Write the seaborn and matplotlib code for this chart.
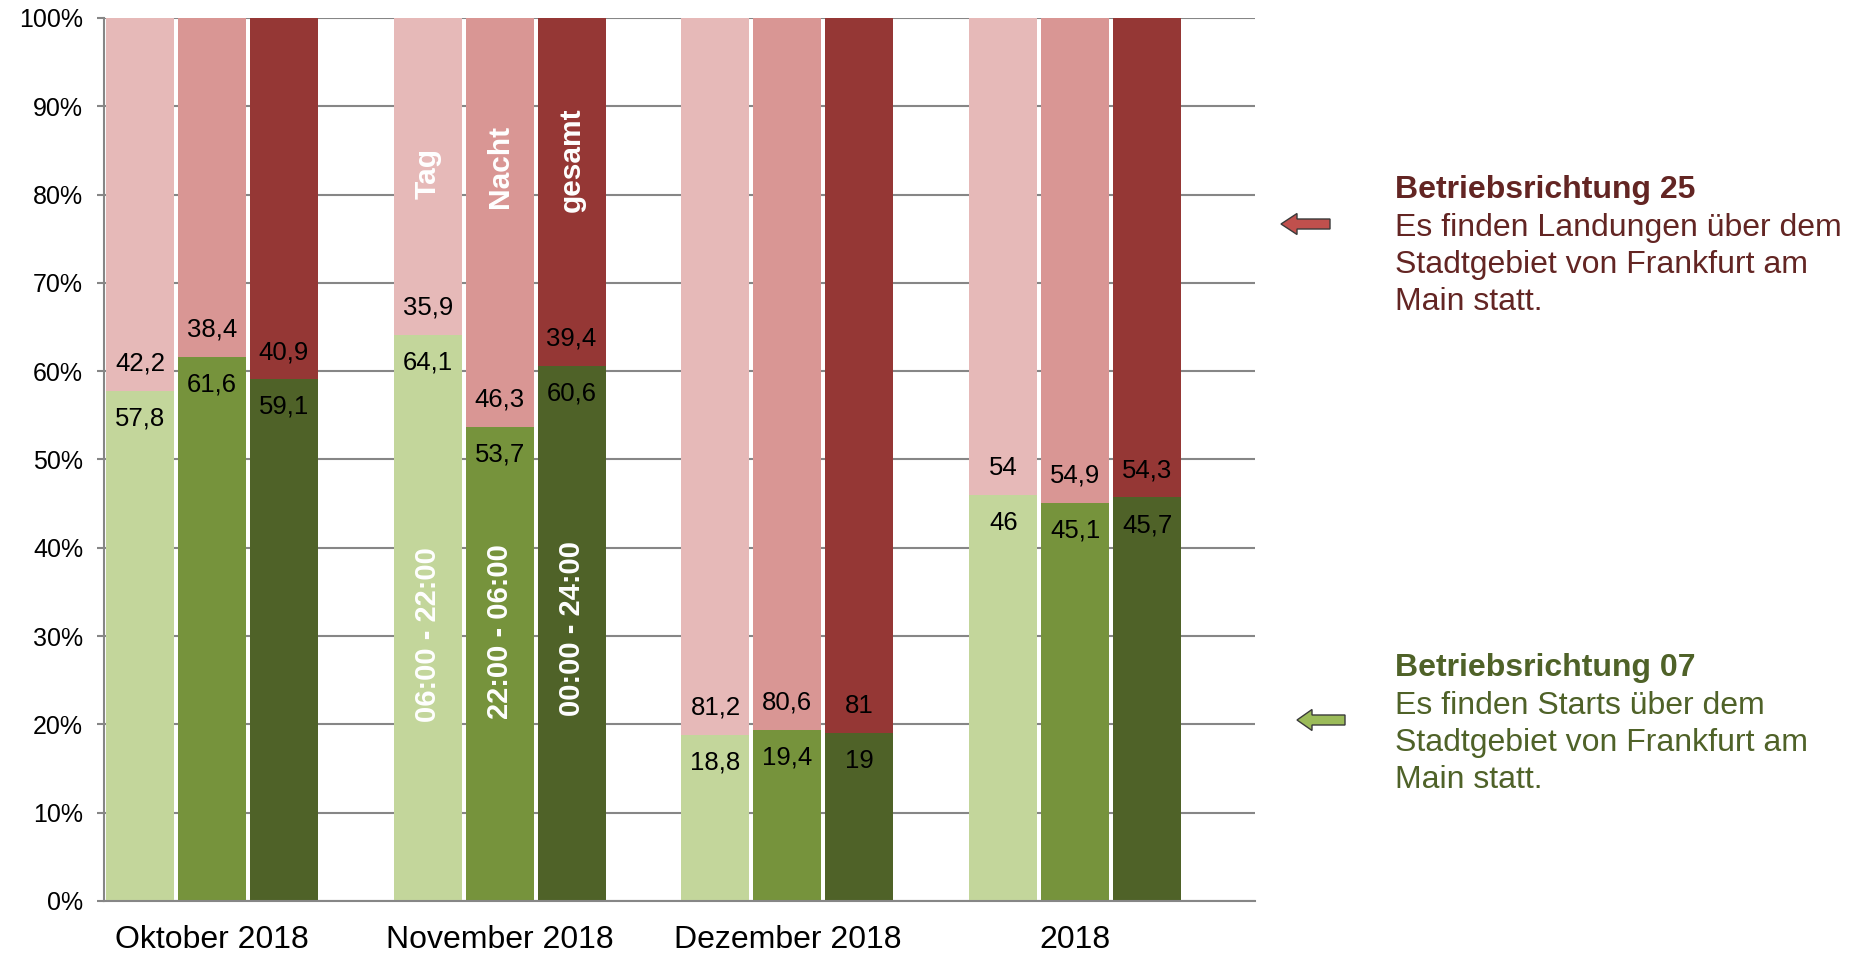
import numpy as np
import pandas as pd
import matplotlib
matplotlib.use("Agg")
import matplotlib.pyplot as plt
from matplotlib.patches import Polygon
import seaborn as sns

# ---------------- data ----------------
groups = ["Oktober 2018", "November 2018", "Dezember 2018", "2018"]
kinds = ["Tag", "Nacht", "gesamt"]
kind_times = ["06:00 - 22:00", "22:00 - 06:00", "00:00 - 24:00"]
br07 = [57.8, 61.6, 59.1, 64.1, 53.7, 60.6, 18.8, 19.4, 19.0, 46.0, 45.1, 45.7]
br25 = [42.2, 38.4, 40.9, 35.9, 46.3, 39.4, 81.2, 80.6, 81.0, 54.0, 54.9, 54.3]
yticks = [0, 10, 20, 30, 40, 50, 60, 70, 80, 90, 100]

red_cols = ["#E6B9B8", "#D99694", "#953735"]
green_cols = ["#C3D69B", "#76933C", "#4F6228"]

def fmt(v):
    s = f"{v:.1f}".replace(".", ",")
    return s[:-2] if s.endswith(",0") else s

# ---------------- frame ----------------
rows = []
for g, grp in enumerate(groups):
    for b, k in enumerate(kinds):
        i = g * 3 + b
        rows.append(dict(group=grp, kind=k, pos=g * 4 + b,
                         br07=br07[i], br25=br25[i], total=br07[i] + br25[i]))
df = pd.DataFrame(rows)

sns.set_theme(style="white")
plt.rcParams["font.family"] = ["Liberation Sans", "DejaVu Sans"]

fig = plt.figure(figsize=(18.66, 9.56), dpi=100)
ax = fig.add_axes([104 / 1866, 1 - 901 / 956, (1255 - 104) / 1866, (901 - 18) / 956])

sns.barplot(data=df, x="pos", y="total", hue="kind", hue_order=kinds,
            palette=red_cols, saturation=1, native_scale=True, dodge=False, width=0.945,
            linewidth=0, legend=False, ax=ax, zorder=2)
sns.barplot(data=df, x="pos", y="br07", hue="kind", hue_order=kinds,
            palette=green_cols, saturation=1, native_scale=True, dodge=False, width=0.945,
            linewidth=0, legend=False, ax=ax, zorder=3)

# value labels
for _, r in df.iterrows():
    ax.annotate(fmt(r.br07), (r.pos, r.br07), xytext=(0, -20), textcoords="offset points",
                ha="center", va="center", fontsize=18.5, color="black", zorder=5)
    ax.annotate(fmt(r.br25), (r.pos, r.br07), xytext=(0, 19.5), textcoords="offset points",
                ha="center", va="center", fontsize=18.5, color="black", zorder=5)

# rotated white labels inside the November bars
nov = df[df.group == "November 2018"].reset_index(drop=True)
name_y = [82.4, 83.2, 83.9]
time_y = [30.2, 30.5, 30.9]
for j, r in nov.iterrows():
    ax.text(r.pos, name_y[j], kinds[j], rotation=90, ha="center", va="center",
            color="white", fontsize=21.5, fontweight="bold", zorder=6)
    ax.text(r.pos, time_y[j], kind_times[j], rotation=90, ha="center", va="center",
            color="white", fontsize=21, fontweight="bold", zorder=6)

# axes styling
ax.set_xlim(-0.5, 15.5)
ax.set_ylim(0, 100)
ax.set_yticks(yticks)
ax.set_yticklabels([f"{t}%" for t in yticks], fontsize=18)
ax.set_xticks([g * 4 + 1 for g in range(len(groups))])
ax.set_xticklabels(groups, fontsize=23)
ax.set_xticks(np.arange(-0.5, 16, 1.0), minor=True)
ax.tick_params(axis="x", which="major", length=0, pad=17, colors="black")
ax.tick_params(axis="x", which="minor", length=7, width=1.5, color="#868686", direction="out")
ax.tick_params(axis="y", which="major", length=5, width=1.5, color="#868686",
               direction="out", pad=10, labelcolor="black", left=True)
ax.set_xlabel("")
ax.set_ylabel("")
ax.grid(axis="y", color="#868686", linewidth=1.5, zorder=0)
ax.grid(axis="x", visible=False)
ax.set_axisbelow(True)
for s in ["top", "right"]:
    ax.spines[s].set_visible(False)
for s in ["left", "bottom"]:
    ax.spines[s].set_color("#868686")
    ax.spines[s].set_linewidth(1.5)
    ax.spines[s].set_zorder(4)

# ---------------- side annotations ----------------
def fx(px):
    return px / 1866

def fy(py):
    return 1 - py / 956

red_txt = "#632523"
green_txt = "#4F6228"
tx = fx(1395)
fs = 23
fig.text(tx, fy(190), "Betriebsrichtung 25", fontsize=fs, fontweight="bold",
         color=red_txt, va="center", ha="left")
for k, line in enumerate(["Es finden Landungen über dem", "Stadtgebiet von Frankfurt am", "Main statt."]):
    fig.text(tx, fy(228 + 37 * k), line, fontsize=fs, color=red_txt, va="center", ha="left")

fig.text(tx, fy(668), "Betriebsrichtung 07", fontsize=fs, fontweight="bold",
         color=green_txt, va="center", ha="left")
for k, line in enumerate(["Es finden Starts über dem", "Stadtgebiet von Frankfurt am", "Main statt."]):
    fig.text(tx, fy(706 + 37 * k), line, fontsize=fs, color=green_txt, va="center", ha="left")

def arrow(x0, x1, yc, head_len, head_h, shaft_h, color):
    pts = [(x0, yc), (x0 + head_len, yc - head_h / 2), (x0 + head_len, yc - shaft_h / 2),
           (x1, yc - shaft_h / 2), (x1, yc + shaft_h / 2), (x0 + head_len, yc + shaft_h / 2),
           (x0 + head_len, yc + head_h / 2)]
    pts = [(fx(a), fy(b)) for a, b in pts]
    fig.patches.append(Polygon(pts, closed=True, facecolor=color, edgecolor="#3a3a3a",
                               linewidth=1.0, transform=fig.transFigure, figure=fig))

arrow(1281, 1330, 224, 16, 21, 10, "#C0504D")
arrow(1297, 1345, 720, 15, 21, 10, "#9BBB59")

fig.savefig("out.png", dpi=100, facecolor="white")
